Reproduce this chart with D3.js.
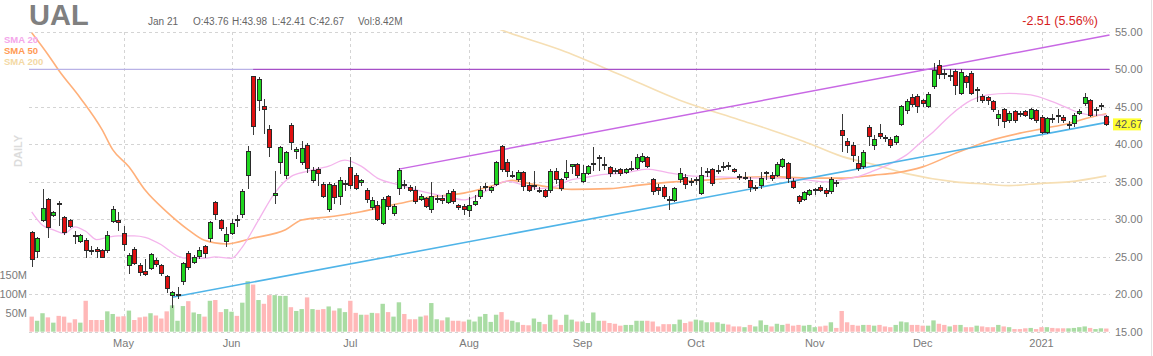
<!DOCTYPE html>
<html><head><meta charset="utf-8">
<script src="https://cdn.jsdelivr.net/npm/d3@7"></script>
<style>body{margin:0;background:#fff}svg{display:block;font-family:Arial,"Liberation Sans",sans-serif}</style>
</head><body><svg id="c" width="1153" height="356"></svg>
<script>
// ---------- DATA ----------
const ticker = "UAL";
const firstDay = "2020-04-07", lastDay = "2021-01-21";
const holidays = ["2020-04-10","2020-05-25","2020-07-03","2020-09-07","2020-11-26","2020-12-25","2021-01-01","2021-01-18"];
const monthLabels = ["May","Jun","Jul","Aug","Sep","Oct","Nov","Dec","2021"];
const priceTicks = [15,20,25,30,35,40,45,50,55];
const volumeTicks = [50,100,150];

const open = [28.2,25.7,29.8,32.6,30.5,32.1,30.3,29.9,27.9,27.0,27.2,25.9,26.0,25.9,25.9,29.7,29.8,28.1,23.9,26.0,
23.9,23.0,23.5,24.5,23.9,22.4,19.8,19.8,21.7,25.5,24.3,25.1,26.4,27.4,32.2,29.9,27.0,28.1,30.0,30.7,
35.8,49.0,45.9,45.0,42.0,33.2,37.6,35.9,42.5,39.1,37.6,39.9,35.2,36.7,34.6,31.3,34.5,33.1,34.7,36.9,
35.8,34.9,33.9,31.6,31.9,29.4,33.1,30.8,34.1,34.7,34.2,33.9,32.7,32.8,31.3,32.6,32.8,32.2,33.7,31.9,
31.7,31.2,32.0,33.1,34.3,33.8,34.7,39.7,37.6,35.8,35.3,36.2,34.5,34.4,33.8,33.8,33.8,36.4,35.3,35.6,
37.1,37.3,35.0,36.1,37.3,38.1,37.3,36.9,36.5,36.7,36.2,36.7,36.8,37.7,38.2,35.3,34.2,34.2,32.7,32.5,
35.3,35.6,35.1,35.2,33.4,36.3,36.6,36.4,37.0,37.2,36.7,35.7,35.5,35.2,34.2,34.5,36.1,35.9,35.9,37.1,
37.4,35.0,33.0,32.6,33.3,33.9,34.3,33.9,33.7,34.9,41.8,40.4,39.9,37.4,37.0,42.3,39.9,41.4,40.9,40.7,
40.2,42.7,44.5,46.2,46.4,45.8,45.0,47.7,50.5,49.5,49.1,49.7,46.8,49.0,49.5,47.2,46.4,46.2,45.7,43.4,
44.6,43.2,44.4,44.1,44.4,43.5,44.5,43.6,41.6,43.5,43.8,43.6,42.6,42.8,44.1,45.4,45.8,44.6,45.0,43.76];
const high = [28.5,27.7,34.0,32.8,31.1,32.5,30.5,30.0,28.4,28.1,27.5,26.4,26.3,26.0,28.4,31.8,31.0,29.1,25.5,26.3,
24.2,24.7,25.5,24.8,24.1,22.6,20.4,20.9,24.3,25.8,25.3,26.3,26.6,29.8,32.5,30.1,29.0,30.0,30.6,34.0,
39.8,49.1,49.0,46.0,42.6,36.4,39.8,39.1,42.8,39.6,40.5,40.2,37.0,37.0,35.0,35.0,34.8,35.6,35.3,38.3,
36.2,35.4,34.2,33.0,32.4,33.0,33.3,32.0,36.8,35.3,34.6,34.4,33.4,33.0,35.0,33.3,33.3,33.9,34.0,32.1,
32.0,33.0,33.2,34.4,34.8,34.5,37.8,39.9,38.0,36.5,36.6,36.4,35.0,36.5,34.3,34.1,36.7,36.9,35.5,37.9,
37.4,37.5,37.2,37.3,39.7,38.6,38.3,37.1,36.9,36.9,36.9,37.8,38.7,38.9,38.4,35.5,34.7,34.6,33.1,34.3,
36.9,36.0,35.5,35.6,37.0,36.8,36.9,37.2,37.6,37.7,36.9,36.0,36.3,35.6,34.6,36.3,36.5,36.3,37.6,38.2,
37.6,35.5,33.3,33.8,34.1,34.2,34.6,34.2,35.6,35.2,44.1,40.9,40.3,38.4,39.2,42.6,41.2,42.7,41.3,41.0,
41.3,45.3,46.0,46.7,46.7,46.0,47.0,50.9,51.2,50.1,50.1,50.0,50.0,49.3,49.8,47.6,46.7,46.4,45.9,44.6,
44.9,44.4,44.6,44.4,44.6,44.8,44.7,43.9,43.6,44.1,44.7,43.9,43.1,44.2,44.7,46.8,46.0,45.0,45.5,43.98];
const low = [23.7,24.8,29.6,27.5,30.3,29.1,27.9,28.8,26.7,26.8,24.9,25.3,24.8,24.8,25.5,29.5,28.4,25.8,22.7,23.9,
22.4,22.4,23.2,23.6,22.4,20.2,18.1,19.3,21.2,23.2,24.1,24.7,24.8,27.0,29.9,28.4,26.3,27.9,29.0,30.2,
34.0,41.2,44.5,41.4,38.3,32.1,36.1,35.4,39.3,38.0,37.3,36.2,34.8,34.5,32.8,31.0,32.0,31.9,33.8,34.1,
33.9,34.4,32.2,31.2,29.8,29.2,31.3,30.4,33.3,34.0,33.6,32.1,32.5,31.5,30.9,32.2,32.1,32.0,32.0,31.3,
30.6,30.3,31.8,32.7,33.8,33.5,34.4,36.3,35.7,35.5,35.0,33.8,33.6,33.9,33.5,32.8,33.5,34.7,33.8,35.3,
36.0,35.5,34.8,35.9,36.4,36.4,36.6,35.7,36.0,35.8,36.0,36.4,36.6,37.5,36.8,33.3,33.3,32.7,31.2,32.3,
34.9,34.0,34.5,34.6,33.2,35.6,34.4,36.0,36.5,36.6,36.2,35.3,35.3,33.6,33.8,34.1,35.3,35.1,35.6,36.9,
34.8,34.0,32.1,32.4,33.1,33.2,33.7,33.0,33.4,34.3,39.0,38.9,37.7,36.5,36.7,39.8,39.3,40.7,40.3,39.5,
39.9,42.4,44.1,45.0,44.2,45.0,44.8,47.4,48.7,48.7,48.5,46.6,46.6,47.5,46.6,45.7,45.5,45.3,44.3,42.4,
42.2,42.9,42.8,43.7,43.6,43.2,42.9,41.4,41.4,42.8,42.9,42.9,42.1,42.3,43.9,45.1,43.6,43.8,44.6,42.41];
const close = [24.6,27.5,31.5,28.9,30.9,32.0,28.2,29.1,27.8,27.8,25.9,25.7,25.7,24.9,27.8,31.3,29.6,26.7,25.2,24.1,
22.9,22.7,25.3,24.0,22.8,20.7,20.2,20.0,24.1,23.6,24.9,25.9,25.5,29.6,30.7,28.8,28.0,29.5,29.8,33.7,
39.0,42.4,48.7,44.7,39.6,33.4,39.6,38.9,40.2,39.3,39.4,36.8,36.5,36.1,33.0,34.6,32.9,35.2,34.8,34.5,
34.1,35.2,32.6,32.5,30.0,32.7,31.7,31.7,36.5,34.6,33.9,32.4,33.0,31.7,33.1,32.8,32.5,33.4,32.4,31.6,
31.3,31.9,32.4,33.8,34.4,34.2,37.6,36.7,36.4,35.9,36.2,34.4,33.9,34.5,33.9,33.0,36.4,35.3,34.1,36.2,
37.3,35.9,36.1,37.0,37.5,38.2,37.2,36.1,36.4,36.1,36.7,36.8,38.3,38.4,37.0,33.7,33.9,33.1,32.6,34.1,
36.1,34.6,35.0,35.3,35.9,36.4,34.8,36.5,37.1,37.1,36.4,35.6,35.6,34.3,34.3,35.5,36.2,35.5,37.3,38.0,
35.5,34.3,32.4,33.6,33.9,34.0,33.9,33.4,35.3,34.8,41.2,39.9,38.5,36.8,38.9,41.0,40.6,41.0,40.8,39.9,
41.0,45.0,45.7,45.3,45.1,45.4,46.7,49.9,49.3,49.4,49.2,47.9,49.6,48.2,46.8,47.3,45.9,45.8,44.6,44.0,
43.0,44.1,43.2,44.0,43.8,44.6,43.2,41.6,43.4,43.4,43.7,43.2,42.7,43.9,44.4,46.3,43.8,44.7,45.18,42.67];
const volume = [40,29,49,38,24,42,40,24,33,24,82,31,31,31,54,47,40,41,56,31,
38,40,49,43,35,54,70,29,68,81,51,47,40,82,84,52,60,53,42,77,
134,125,84,74,97,97,95,95,65,55,60,91,60,58,60,67,56,62,52,82,
50,45,45,50,49,74,52,40,78,47,33,33,40,43,76,33,30,38,29,29,
27,32,27,40,47,26,45,52,32,29,25,18,17,35,26,20,45,32,18,45,
32,27,27,23,51,29,29,23,21,16,18,18,29,29,29,27,14,20,20,20,
32,23,27,32,30,25,25,25,21,19,14,14,12,18,14,30,18,14,21,18,
21,16,18,16,18,12,14,16,25,10,55,25,18,16,18,18,16,18,14,12,
18,27,25,18,18,16,16,30,21,18,14,18,18,12,12,16,14,12,12,18,
14,12,7,7,9,10,7,12,12,10,9,9,9,10,12,14,10,7,9,8.42];

// moving averages: [trading-day index, value]
const sma20 = [[0,31.0],[2,29.2],[4,28.6],[6,28.1],[8,29.0],[10,28.4],[12,27.3],[14,27.6],[16,27.8],[19,27.8],[21,27.6],[24,26.6],[27,25.1],[29,24.8],[32,24.8],[34,25.0],[37,24.8],[39,26.3],[42,29.9],[45,33.5],[48,35.7],[51,36.4],[55,37.1],[58,37.9],[61,37.1],[64,35.5],[68,34.6],[73,33.6],[77,33.0],[80,32.6],[82,33.0],[85,34.1],[88,35.1],[91,34.6],[94,34.1],[97,34.4],[100,35.3],[102,35.5],[105,35.9],[110,36.2],[114,36.7],[118,36.2],[122,35.8],[126,35.7],[130,35.6],[133,35.5],[137,35.5],[143,35.3],[147,35.0],[150,35.3],[153,35.7],[156,36.5],[159,37.4],[162,38.6],[165,40.5],[167,41.7],[170,43.8],[174,45.9],[177,46.6],[181,46.8],[185,46.6],[189,45.7],[192,44.8],[194,44.2],[197,43.9],[199,43.9]];
const sma50 = [[0,54.9],[3,52.0],[5,49.9],[9,46.2],[13,42.0],[15,39.3],[18,37.0],[21,33.9],[25,31.0],[29,28.6],[32,27.2],[36,26.7],[41,27.5],[47,28.6],[50,29.9],[56,30.4],[61,31.0],[66,31.8],[68,32.1],[74,33.0],[80,33.5],[85,34.4],[89,35.2],[92,34.8],[95,34.4],[100,34.0],[107,34.1],[113,34.6],[119,35.0],[126,35.3],[132,35.6],[137,35.7],[144,35.5],[150,35.5],[156,35.9],[160,36.2],[165,37.0],[171,38.8],[177,40.4],[183,41.5],[188,42.2],[192,42.8],[197,43.8],[199,44.1]];
const sma200 = [[85,55.8],[88,55.0],[98,52.6],[109,49.3],[120,45.9],[131,43.3],[137,41.9],[143,40.4],[150,38.4],[156,37.3],[162,36.1],[171,35.0],[177,34.7],[181,34.5],[187,34.8],[192,35.0],[199,35.8]];
// drawn trend lines: [index, price]
const upperTrend = [[68,36.7],[199.6,54.6]];
const lowerTrend = [[26,19.6],[199.6,43.0]];
const resistance = [[41,50.0],[199.6,50.0]];
const resistanceFaint = [[-0.5,50.0],[41,50.0]];

const header = {date:"Jan 21", o:"43.76", h:"43.98", l:"42.41", c:"42.67", vol:"8.42M", change:"-2.51 (5.56%)"};
const lastPrice = 42.67;

// ---------- TRADING DAYS ----------
const dates = [];
{
  const hs = new Set(holidays);
  let d = new Date(firstDay + "T00:00:00Z");
  const end = new Date(lastDay + "T00:00:00Z");
  while (d <= end) {
    const wd = d.getUTCDay();
    const s = d.toISOString().slice(0,10);
    if (wd !== 0 && wd !== 6 && !hs.has(s)) dates.push(s);
    d = new Date(d.getTime() + 86400000);
  }
}

// ---------- SCALES ----------
const svg = d3.select("#c");
svg.append("rect").attr("width",1153).attr("height",356).attr("fill","#fff");
const x = d3.scaleBand().domain(dates).range([29, 1109]).padding(0);
const bw = x.bandwidth();
const xi = d3.scaleLinear().domain([0, dates.length - 1]).range([x(dates[0]) + bw/2, x(dates[dates.length-1]) + bw/2]);
const y = d3.scaleLinear().domain([15, 55]).range([331.7, 32]);
const v = d3.scaleLinear().domain([0, 100]).range([331.7, 294]);

const plotL = 29, plotR = 1110, plotT = 30, plotB = 332;

svg.append("defs").append("clipPath").attr("id","clip")
  .append("rect").attr("x",plotL).attr("y",plotT).attr("width",plotR-plotL).attr("height",plotB-plotT);

// ---------- GRID ----------
const grid = svg.append("g").attr("stroke","#d4d4d4").attr("stroke-dasharray","3,3").attr("shape-rendering","crispEdges");
grid.selectAll("line.h").data(priceTicks).join("line").attr("class","h")
  .attr("x1",plotL).attr("x2",plotR).attr("y1",d=>Math.round(y(d))+0.5).attr("y2",d=>Math.round(y(d))+0.5);
const monthIdx = [];
for (let i = 1; i < dates.length; i++) if (dates[i].slice(5,7) !== dates[i-1].slice(5,7)) monthIdx.push(i);
grid.selectAll("line.v").data(monthIdx).join("line").attr("class","v")
  .attr("x1",d=>Math.round(xi(d))+0.5).attr("x2",d=>Math.round(xi(d))+0.5).attr("y1",32).attr("y2",plotB);

// ---------- VOLUME ----------
const up = i => close[i] >= open[i];
svg.append("g").selectAll("rect").data(volume).join("rect")
  .attr("x",(d,i)=>xi(i)-2.2).attr("width",4.4)
  .attr("y",d=>v(d)).attr("height",d=>v(0)-v(d))
  .attr("fill",(d,i)=>up(i)?"#a9dca3":"#ffb8b8");

// ---------- LINES ----------
const lines = svg.append("g").attr("clip-path","url(#clip)").attr("fill","none");
const lineGen = d3.line().x(d=>xi(d[0])).y(d=>y(d[1])).curve(d3.curveMonotoneX);
lines.append("path").attr("d",lineGen(sma200)).attr("stroke","#f6dfb4").attr("stroke-width",1.6);
lines.append("path").attr("d",lineGen(sma50)).attr("stroke","#ffb07a").attr("stroke-width",1.6);
lines.append("path").attr("d",lineGen(sma20)).attr("stroke","#f4b4ec").attr("stroke-width",1.3);
const straight = d3.line().x(d=>xi(d[0])).y(d=>y(d[1]));
lines.append("path").attr("d",straight(resistanceFaint)).attr("stroke","#b9b2e6").attr("stroke-width",1.3);
lines.append("path").attr("d",straight(resistance)).attr("stroke","#a64fc8").attr("stroke-width",1.3);
lines.append("path").attr("d",straight(upperTrend)).attr("stroke","#c868e4").attr("stroke-width",1.5);
lines.append("path").attr("d",straight(lowerTrend)).attr("stroke","#4fb4e8").attr("stroke-width",1.6);

// ---------- CANDLES ----------
const cg = svg.append("g").attr("shape-rendering","crispEdges");
const idx = d3.range(dates.length);
cg.selectAll("line").data(idx).join("line")
  .attr("x1",i=>Math.round(xi(i))+0.5).attr("x2",i=>Math.round(xi(i))+0.5)
  .attr("y1",i=>y(high[i])).attr("y2",i=>y(low[i]))
  .attr("stroke","#3a3a3a").attr("stroke-width",1);
cg.selectAll("rect").data(idx).join("rect")
  .attr("x",i=>Math.round(xi(i))-1.5).attr("width",4)
  .attr("y",i=>y(Math.max(open[i],close[i])))
  .attr("height",i=>Math.max(1, Math.abs(y(open[i])-y(close[i]))))
  .attr("fill",i=>up(i)?"#1fd61f":"#e01010")
  .attr("stroke","#2a2a2a").attr("stroke-width",1);

// ---------- AXES ----------
const FONT = "Arial, 'Liberation Sans', sans-serif";
const yAxis = svg.append("g").attr("transform","translate(1112,0)")
  .call(d3.axisRight(y).tickValues(priceTicks).tickFormat(d3.format(".2f")).tickSize(0).tickPadding(3));
yAxis.select(".domain").remove();
yAxis.selectAll("text").attr("fill","#7a7a7a").attr("font-size",11).attr("font-family",FONT);

const vAxis = svg.append("g").attr("transform","translate(28,0)")
  .call(d3.axisLeft(v).tickValues(volumeTicks).tickFormat(d=>d+"M").tickSize(0).tickPadding(1));
vAxis.select(".domain").remove();
vAxis.selectAll("text").attr("fill","#7a7a7a").attr("font-size",11).attr("font-family",FONT);

const xAxis = svg.append("g").attr("transform",`translate(0,${plotB})`)
  .call(d3.axisBottom(x).tickValues(monthIdx.map(i=>dates[i])).tickFormat((d,k)=>monthLabels[k]).tickSize(0).tickPadding(7));
xAxis.select(".domain").remove();
xAxis.selectAll("text").attr("fill","#7a7a7a").attr("font-size",11).attr("font-family",FONT);

// right border
svg.append("line").attr("x1",1151.5).attr("x2",1151.5).attr("y1",0).attr("y2",356).attr("stroke","#e2e2e2");

// ---------- LAST PRICE TAG ----------
svg.append("rect").attr("x",1113).attr("y",y(lastPrice)-6).attr("width",28).attr("height",12).attr("fill","#ffff33");
svg.append("text").attr("x",1115).attr("y",y(lastPrice)+4).attr("font-size",11).attr("fill","#555").text(lastPrice.toFixed(2));

// ---------- HEADER ----------
svg.append("text").attr("x",29).attr("y",25).attr("font-size",29).attr("font-weight","bold").attr("fill","#808080").text(ticker);
const hd = svg.append("g").attr("font-size",10).attr("fill","#666");
hd.append("text").attr("x",148).attr("y",25).text(header.date);
hd.append("text").attr("x",193).attr("y",25).text("O:"+header.o);
hd.append("text").attr("x",232).attr("y",25).text("H:"+header.h);
hd.append("text").attr("x",272).attr("y",25).text("L:"+header.l);
hd.append("text").attr("x",309).attr("y",25).text("C:"+header.c);
hd.append("text").attr("x",358).attr("y",25).text("Vol:"+header.vol);
svg.append("text").attr("x",1098).attr("y",25).attr("text-anchor","end").attr("font-size",12.5).attr("fill","#d61d1d").text(header.change);

// legend
const lg = [["SMA 20","#f4a6ea"],["SMA 50","#ff9a52"],["SMA 200","#f3d9a4"]];
svg.append("g").selectAll("text").data(lg).join("text")
  .attr("x",4).attr("y",(d,i)=>43+i*11).attr("font-size",9.5).attr("font-weight","bold")
  .attr("fill",d=>d[1]).text(d=>d[0]);

// DAILY
svg.append("text").attr("transform","translate(22,151) rotate(-90)").attr("text-anchor","middle")
  .attr("font-size",11).attr("font-weight","bold").attr("fill","#dcdcdc").text("DAILY");
</script></body></html>
